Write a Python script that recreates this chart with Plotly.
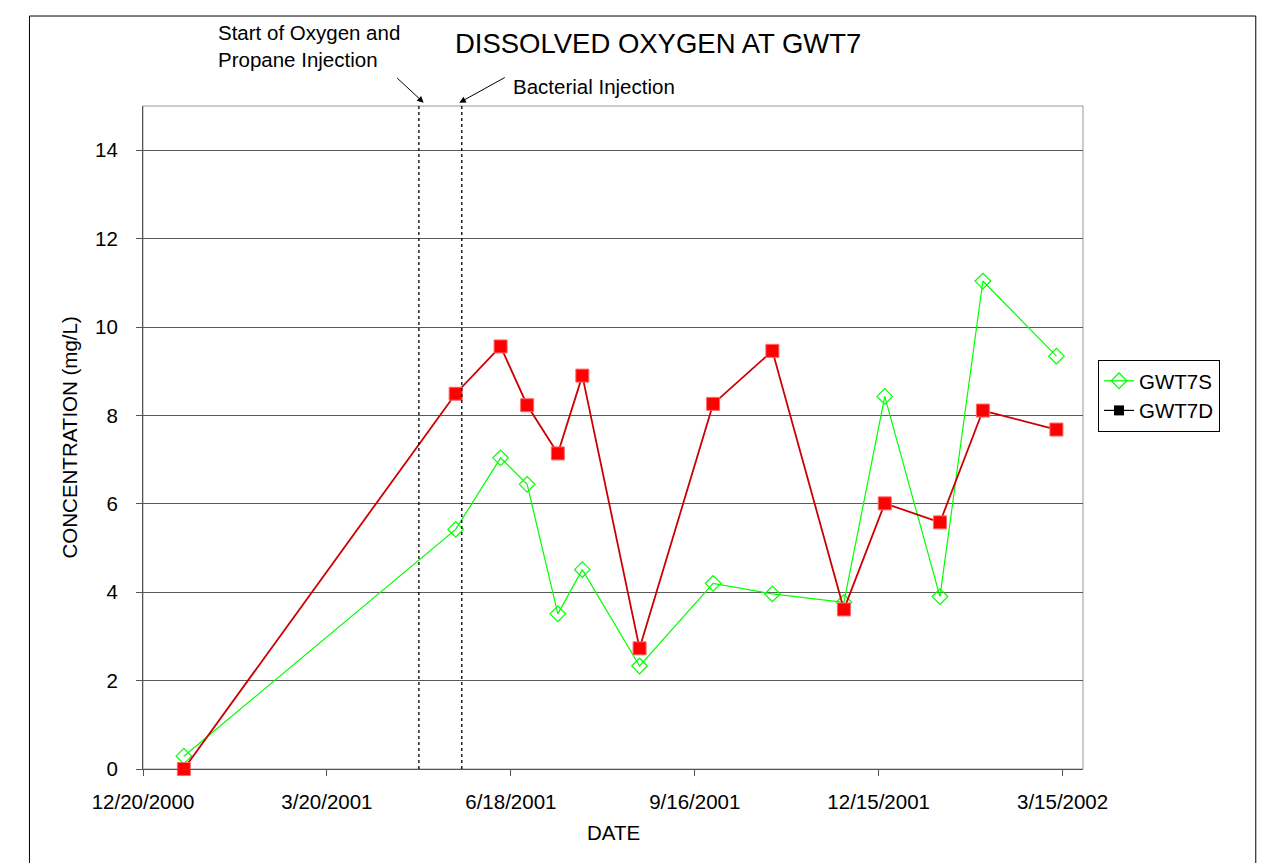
import plotly.graph_objects as go

# sample dates and dissolved oxygen (mg/L)
dates = ['2001-01-09', '2001-05-22', '2001-06-13', '2001-06-26', '2001-07-11',
         '2001-07-23', '2001-08-20', '2001-09-25', '2001-10-24', '2001-11-28',
         '2001-12-18', '2002-01-14', '2002-02-04', '2002-03-12']
gwt7s = [0.29, 5.42, 7.04, 6.44, 3.51, 4.51, 2.33, 4.20, 3.96, 3.77,
         8.43, 3.90, 11.04, 9.34]
gwt7d = [0.0, 8.49, 9.56, 8.23, 7.14, 8.90, 2.73, 8.26, 9.46, 3.61,
         6.01, 5.58, 8.11, 7.68]

# injection events (dotted lines)
event_dates = ['2001-05-04', '2001-05-25']

tick_dates = ['2000-12-20', '2001-03-20', '2001-06-18', '2001-09-16',
              '2001-12-15', '2002-03-15']
tick_labels = ['12/20/2000', '3/20/2001', '6/18/2001', '9/16/2001',
               '12/15/2001', '3/15/2002']

FONT = 'Arial, Liberation Sans, sans-serif'
FS = 20.5

fig = go.Figure()

fig.add_trace(go.Scatter(
    x=dates, y=gwt7s, name='GWT7S', mode='lines+markers', cliponaxis=False,
    line=dict(color='#00FF00', width=1.2),
    marker=dict(symbol='diamond-open', size=12, color='#00FF00',
                line=dict(width=1.2))
))

fig.add_trace(go.Scatter(
    x=dates, y=gwt7d, name='GWT7D', mode='lines+markers', showlegend=False,
    cliponaxis=False,
    line=dict(color='#CC0000', width=1.8),
    marker=dict(symbol='square', size=13, color='#FF0000',
                line=dict(width=1, color='#FF6666'))
))

# legend entry as drawn in the original (black line, black square)
fig.add_trace(go.Scatter(
    x=[None], y=[None], name='GWT7D', mode='lines+markers',
    line=dict(color='black', width=1.2),
    marker=dict(symbol='square', size=10, color='black')
))

shapes = [
    # plot area frame
    dict(type='rect', xref='paper', yref='paper', x0=0, x1=1, y0=0, y1=1,
         line=dict(color='#999999', width=1), layer='below'),
    # outer chart frame
    dict(type='rect', xref='paper', yref='paper', x0=-0.1208, x1=1.1838,
         y0=1.1357, y1=-0.2, line=dict(color='black', width=1)),
]
for d in event_dates:
    shapes.append(dict(type='line', xref='x', yref='paper', x0=d, x1=d,
                       y0=0, y1=1, line=dict(color='black', width=1.3,
                                             dash='dot')))

annotations = [
    dict(text='Start of Oxygen and<br>Propane Injection', xref='paper',
         yref='paper', x=0.0777, y=1.091, xanchor='left', yanchor='middle',
         align='left', showarrow=False, font=dict(size=FS)),
    dict(text='Bacterial Injection', xref='paper', yref='paper',
         x=0.3915, y=1.029, xanchor='left', yanchor='middle',
         showarrow=False, font=dict(size=FS)),
    dict(text='', xref='paper', yref='paper', x=0.2986, y=1.005,
         ax=-28, ay=-26, showarrow=True, arrowhead=2, arrowsize=1.3,
         arrowwidth=1, arrowcolor='black'),
    dict(text='', xref='paper', yref='paper', x=0.3365, y=1.005,
         ax=47, ay=-26, showarrow=True, arrowhead=2, arrowsize=1.3,
         arrowwidth=1, arrowcolor='black'),
    dict(text='CONCENTRATION (mg/L)', xref='paper', yref='paper',
         x=-0.0777, y=0.5, textangle=-90, showarrow=False,
         xanchor='center', yanchor='middle', font=dict(size=FS)),
    dict(text='DATE', xref='paper', yref='paper', x=0.5, y=-0.0965,
         showarrow=False, xanchor='center', yanchor='middle',
         font=dict(size=FS)),
]

fig.update_layout(
    width=1285, height=863,
    margin=dict(l=135, r=210, t=98, b=102),
    paper_bgcolor='white', plot_bgcolor='white',
    font=dict(family=FONT, size=FS, color='black'),
    title=dict(text='DISSOLVED OXYGEN AT GWT7', x=0.548, xref='paper',
               xanchor='center', y=1 - 35 / 863, yref='container',
               yanchor='middle', font=dict(size=27.5)),
    xaxis=dict(type='date', range=['2000-12-20', '2002-03-25'],
               tickvals=tick_dates, ticktext=tick_labels,
               showgrid=False, zeroline=False, showline=True,
               linecolor='#555555', linewidth=1.2, ticks='outside',
               ticklen=6, tickcolor='#555555', ticklabelstandoff=8),
    yaxis=dict(range=[0, 15], dtick=2, tick0=0, showgrid=True,
               gridcolor='#5a5a5a', gridwidth=1, zeroline=False,
               showline=True, linecolor='#555555', linewidth=1.2,
               ticks='outside', ticklen=6, tickcolor='#555555',
               ticklabelstandoff=14),
    legend=dict(x=1.016, y=0.617, xanchor='left', yanchor='top',
                bordercolor='black', borderwidth=1, bgcolor='white',
                font=dict(size=FS), tracegroupgap=0, itemwidth=30),
    shapes=shapes,
    annotations=annotations,
    showlegend=True,
)

fig.write_html('out.html')
